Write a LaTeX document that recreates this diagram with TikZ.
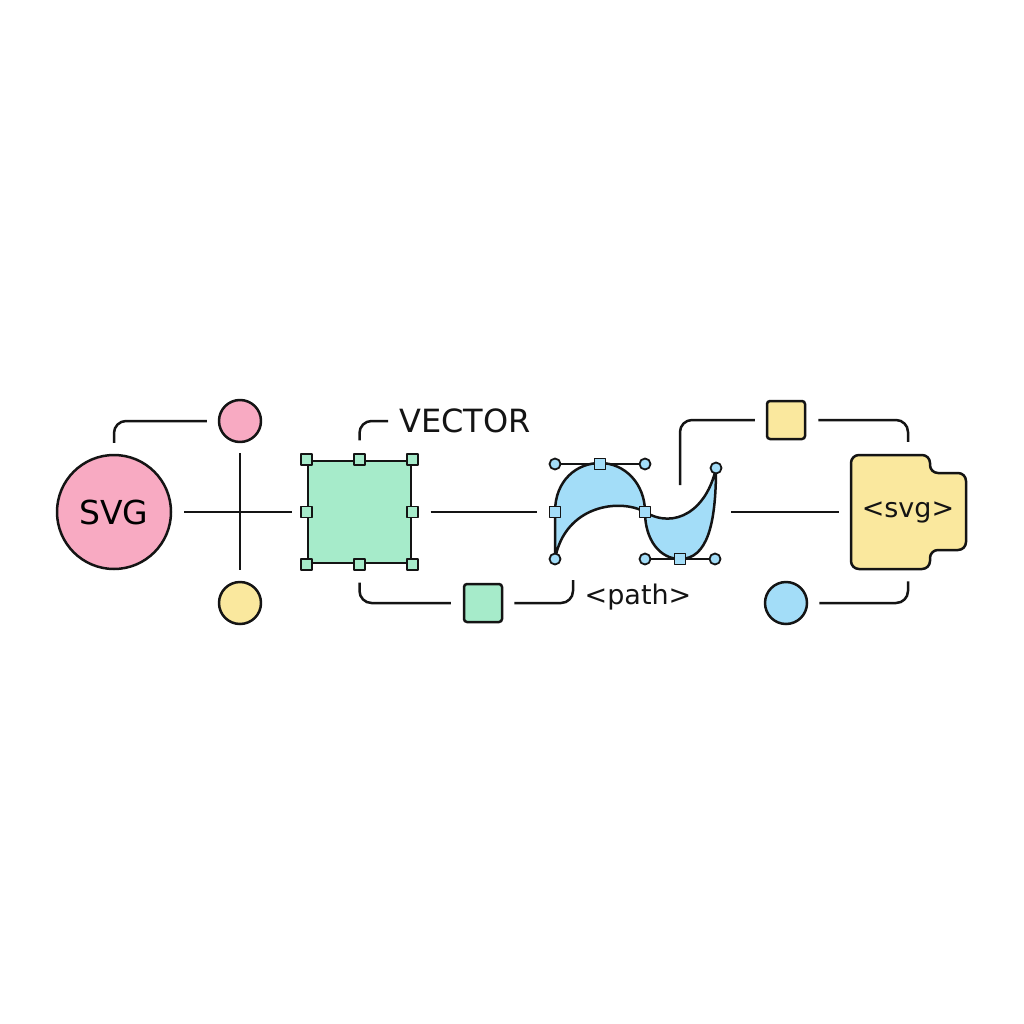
\documentclass[tikz,border=0pt]{standalone}
\usepackage{fontspec}
\setmainfont{DejaVu Sans}
\definecolor{pinkc}{RGB}{248,170,194}
\definecolor{yellowc}{RGB}{250,232,158}
\definecolor{greenc}{RGB}{166,235,202}
\definecolor{bluec}{RGB}{163,221,248}
\definecolor{inkc}{RGB}{20,20,20}
\begin{document}
\begin{tikzpicture}[x=1pt,y=-1pt,line width=2.5pt,draw=inkc,line join=round,
  bigc/.style={circle,draw,fill=pinkc,minimum size=114pt,inner sep=0pt},
  dot/.style={circle,draw,minimum size=42pt,inner sep=0pt},
  tile/.style={rectangle,draw,rounded corners=3pt,minimum size=38pt,inner sep=0pt},
  hsq/.style={rectangle,draw,minimum size=11pt,inner sep=0pt,line width=1.8pt},
  hci/.style={circle,draw,fill=bluec,minimum size=11pt,inner sep=0pt,line width=1.8pt},
  conn/.style={draw,rounded corners=12pt,line width=2.5pt},
  lbl/.style={inner sep=0pt,text=inkc}]
\useasboundingbox (0,0) rectangle (1024,1024);
\fill[white] (0,0) rectangle (1024,1024);

% left cluster
\node[bigc,font=\fontsize{33}{38}\selectfont] (svg) at (114,512) {SVG};
\node[dot,fill=pinkc] (pdot) at (240,421) {};
\node[dot,fill=yellowc] (ydot) at (240,603) {};

% green square with handles
\node[rectangle,draw,fill=greenc,minimum width=103pt,minimum height=102pt,inner sep=0pt] (gsq) at (359.5,512) {};
\foreach \a/\n in {north west/gNW,north/gN,north east/gNE,west/gW,east/gE,south west/gSW,south/gS,south east/gSE}
  \node[hsq,fill=greenc] (\n) at (gsq.\a) {};

\draw[shorten <=12pt,shorten >=15pt] (svg.east) -- (gW.center);
\draw[shorten <=10pt,shorten >=11pt] (pdot.south) -- (ydot.north);

\node[lbl,anchor=west,font=\fontsize{32}{36}\selectfont] (vec) at (398,421) {VECTOR};
\draw[conn] ([yshift=11pt]svg.north) |- ([xshift=-11pt]pdot.west);
\draw[conn] ([yshift=13pt]gN.north) |- ([xshift=-10pt]vec.west);

% path shape
\filldraw[fill=bluec] (555,559) -- (555,512) .. controls (555,480) and (577,463) .. (600,463)
  .. controls (625,463) and (645,484) .. (645,512)
  .. controls (645,540) and (660,559) .. (680,559)
  .. controls (707,559) and (716,525) .. (716,468)
  .. controls (707,510) and (675,530) .. (645,512)
  .. controls (620,498) and (565,505) .. (555,559) -- cycle;
\node[hci] (pc1) at (555,464) {};
\node[hci] (pc2) at (645,464) {};
\node[hci] (pc3) at (555,559) {};
\node[hci] (pc4) at (645,559) {};
\node[hci] (pc5) at (715,559) {};
\node[hci] (pc6) at (716,468) {};
\draw[line width=1.8pt] (pc1) -- (pc2);
\draw[line width=1.8pt] (pc4) -- (pc5);
\node[hsq,fill=bluec] (ps1) at (600,464) {};
\node[hsq,fill=bluec] (ps2) at (555,512) {};
\node[hsq,fill=bluec] (ps3) at (645,512) {};
\node[hsq,fill=bluec] (ps4) at (680,559) {};

\draw ([xshift=12pt]gE.east) -- ([xshift=-12pt]ps2.west);

% bottom green tile
\node[tile,fill=greenc] (gtile) at (483,603) {};
\draw[conn] ([yshift=-12pt]gS.south) |- ([xshift=-12pt]gtile.west);
\coordinate (c1) at (573,580);
\draw[conn] ([xshift=11pt]gtile.east) -| (c1);
\node[lbl,font=\fontsize{27}{32}\selectfont] (plbl) at (638,597) {<path>};

% svg document
\node[minimum width=116pt,minimum height=114pt,inner sep=0pt] (doc) at (908,512) {};
\filldraw[fill=yellowc,rounded corners=8pt] (851,455) -- (930,455) -- (930,473) -- (966,473) -- (966,550) -- (930,550) -- (930,569) -- (851,569) -- cycle;
\node[lbl,font=\fontsize{27}{32}\selectfont] (dlbl) at (908,512) {<svg>};

\coordinate (c2) at (731,512);
\draw (c2) -- ([xshift=-10pt]doc.west);

\node[tile,fill=yellowc] (ytile) at (786,420) {};
\coordinate (c3) at (680,485);
\draw[conn] (c3) |- ([xshift=-11pt]ytile.west);
\draw[conn] ([xshift=12pt]ytile.east) -| ([yshift=12pt]doc.north);

\node[dot,fill=bluec] (bdot) at (786,603) {};
\draw[conn] ([xshift=11pt]bdot.east) -| ([yshift=-11pt]doc.south);
\end{tikzpicture}
\end{document}
